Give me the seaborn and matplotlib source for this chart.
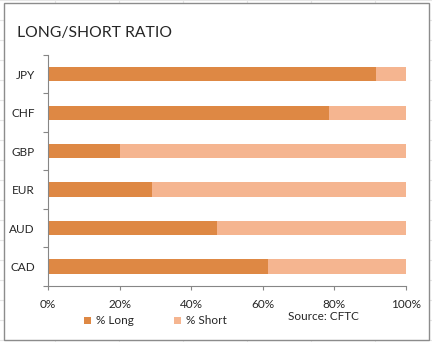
import matplotlib
matplotlib.use("Agg")
import matplotlib.pyplot as plt
import matplotlib.patches as mpatches
from matplotlib.lines import Line2D
from matplotlib.ticker import PercentFormatter, FixedLocator
import seaborn as sns
import pandas as pd

# ---- data ----
currencies = ["JPY", "CHF", "GBP", "EUR", "AUD", "CAD"]
long_pct = [91.6, 78.5, 20.1, 29.0, 47.1, 61.4]
short_pct = [8.4, 21.5, 79.9, 71.0, 52.9, 38.6]
x_ticks = [0, 20, 40, 60, 80, 100]
title = "LONG/SHORT RATIO"
source = "Source: CFTC"
legend_labels = ["% Long", "% Short"]

LONG_C = "#DE8844"
SHORT_C = "#F5B590"
TXT = "#262626"
AXC = "#868686"

plt.rcParams["font.family"] = ["Lato", "DejaVu Sans"]

df = pd.DataFrame({"cur": currencies, "long": long_pct, "short": short_pct})
df["total"] = df["long"] + df["short"]

W, H = 432, 342
fig = plt.figure(figsize=(W / 100, H / 100), dpi=100)
fig.patch.set_facecolor("white")

# faint spreadsheet cell grid behind the chart
for x in range(55, W, 64):
    fig.add_artist(Line2D([x / W, x / W], [0, 1], transform=fig.transFigure,
                          color="#e6e6e6", lw=0.8, zorder=0))
for y in range(0, H, 20):
    fig.add_artist(Line2D([0, 1], [1 - y / H, 1 - y / H], transform=fig.transFigure,
                          color="#e6e6e6", lw=0.8, zorder=0))
# chart box
fig.add_artist(mpatches.Rectangle((4 / W, 1 - 340 / H), 425 / W, 337 / H,
                                  transform=fig.transFigure, facecolor="white",
                                  edgecolor="#8c8c8c", lw=1.0, zorder=0.5))

ax = fig.add_axes([48 / W, 1 - 285.7 / H, 358 / W, (285.7 - 55) / H])
ax.set_facecolor("none")
ax.set_zorder(2)

sns.barplot(data=df, x="total", y="cur", orient="h", color=SHORT_C,
            saturation=1, width=0.37, ax=ax, linewidth=0)
sns.barplot(data=df, x="long", y="cur", orient="h", color=LONG_C,
            saturation=1, width=0.37, ax=ax, linewidth=0)

ax.set_xlim(0, 100)
ax.set_ylim(len(currencies) - 0.5, -0.5)
ax.set_xlabel("")
ax.set_ylabel("")
ax.set_xticks(x_ticks)
ax.xaxis.set_major_formatter(PercentFormatter(100, decimals=0))
ax.yaxis.set_minor_locator(FixedLocator([i - 0.5 for i in range(len(currencies) + 1)]))

for s in ["top", "right"]:
    ax.spines[s].set_visible(False)
for s in ["left", "bottom"]:
    ax.spines[s].set_color(AXC)
    ax.spines[s].set_linewidth(0.8)

ax.tick_params(axis="x", which="major", length=3, width=0.8, color=AXC,
               pad=6.5, labelsize=8.5, labelcolor=TXT)
ax.tick_params(axis="y", which="major", length=0, pad=9.5, labelsize=8.5, labelcolor=TXT)
ax.tick_params(axis="y", which="minor", length=3.5, width=0.8, color=AXC)

fig.text(17 / W, 1 - 33.5 / H, title, fontsize=11.3, color=TXT, va="center", ha="left")
fig.text(288 / W, 1 - 316.5 / H, source, fontsize=8.5, color=TXT, va="center", ha="left")

handles = [mpatches.Patch(facecolor=LONG_C, edgecolor="none"),
           mpatches.Patch(facecolor=SHORT_C, edgecolor="none")]
fig.legend(handles, legend_labels, loc="center left", bbox_to_anchor=(82 / W, 1 - 321 / H),
           ncol=2, frameon=False, fontsize=8.5, handlelength=0.55, handleheight=0.55,
           handletextpad=0.45, columnspacing=3.4, labelcolor=TXT, borderaxespad=0,
           borderpad=0.2)

fig.savefig("out.png", dpi=100, facecolor="white")
